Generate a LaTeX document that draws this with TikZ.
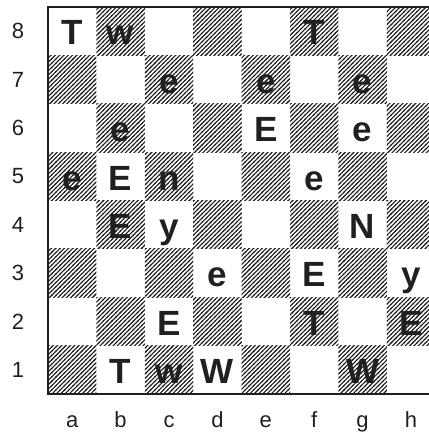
\documentclass[tikz,border=0pt]{standalone}
\usepackage{fontspec}
\setmainfont{Liberation Sans}
\usetikzlibrary{patterns}
\definecolor{BoardInk}{HTML}{231F20}
\pgfdeclarepatternformonly{diaghatch}{\pgfqpoint{-1pt}{-1pt}}{\pgfqpoint{5.3pt}{5.3pt}}{\pgfqpoint{4.3pt}{4.3pt}}{%
  \pgfsetlinewidth{1.1pt}%
  \pgfpathmoveto{\pgfqpoint{-0.6pt}{-0.6pt}}%
  \pgfpathlineto{\pgfqpoint{4.9pt}{4.9pt}}%
  \pgfusepath{stroke}}

\tikzset{
  darksq/.style={pattern=diaghatch, pattern color=BoardInk},
  piece/.style={font=\fontsize{35}{35}\selectfont\bfseries, text=BoardInk,
                anchor=base, inner sep=0pt},
  coordlabel/.style={font=\fontsize{22}{22}\selectfont, text=BoardInk, inner sep=0pt},
}

\begin{document}
\begin{tikzpicture}[x=1pt,y=1pt]
  \useasboundingbox (0,0) rectangle (428,433);
  \begin{scope}[shift={(48,38.8)}, x=48.4pt, y=48.4pt]
    % hatched (dark) squares
    \foreach \f in {1,...,8}
      \foreach \r in {1,...,8}{
        \pgfmathtruncatemacro\sq{\f+\r}
        \ifodd\sq\else
          \fill[darksq] (\f-1,\r-1) rectangle (\f,\r);
        \fi
      }
    % frame
    \draw[BoardInk, line width=2pt] (8.5,8) -- (0,8) -- (0,0) -- (8.5,0);
    % pieces
    \foreach \f/\r/\p in {1/8/T, 2/8/w, 6/8/T,
                          3/7/e, 5/7/e, 7/7/e,
                          2/6/e, 5/6/E, 7/6/e,
                          1/5/e, 2/5/E, 3/5/n, 6/5/e,
                          2/4/E, 3/4/y, 7/4/N,
                          4/3/e, 6/3/E, 8/3/y,
                          3/2/E, 6/2/T, 8/2/E,
                          2/1/T, 3/1/w, 4/1/W, 7/1/W}
      \node[piece] (p\f\r) at (\f-0.5,\r-0.785) {\p};
    % ranks and files
    \foreach \r in {1,...,8}
      \node[coordlabel] (rank\r) at (-0.62,\r-0.5) {\r};
    \foreach \f/\l in {1/a, 2/b, 3/c, 4/d, 5/e, 6/f, 7/g, 8/h}
      \node[coordlabel, anchor=base] (file\l) at (\f-0.5,-0.685) {\l};
  \end{scope}
\end{tikzpicture}
\end{document}
